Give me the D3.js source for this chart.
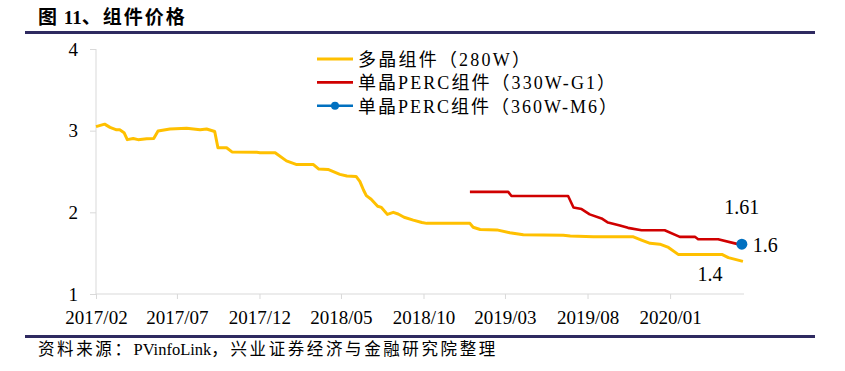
<!DOCTYPE html>
<html><head><meta charset="utf-8">
<script src="https://cdn.jsdelivr.net/npm/d3@7"></script>
<style>body{margin:0;background:#fff}svg{display:block}</style>
</head><body><svg id="c" width="845" height="371"></svg>
<script>
const titleText = "图 11、组件价格";
const sourceText = "资料来源：PVinfoLink，兴业证券经济与金融研究院整理";
const seriesNames = ["多晶组件（280W）", "单晶PERC组件（330W-G1）", "单晶PERC组件（360W-M6）"];
const seriesColors = ["#FFC000", "#D00000", "#0070C0"];
const yTicks = [1, 2, 3, 4];
const xTickLabels = ["2017/02", "2017/07", "2017/12", "2018/05", "2018/10", "2019/03", "2019/08", "2020/01"];
const xDomain = ["2017-02-01", "2020-05-17"];

const polyDates = ["2017-02-01","2017-02-17","2017-02-27","2017-03-11","2017-03-17","2017-03-25","2017-03-31","2017-04-11","2017-04-20","2017-05-06","2017-05-19","2017-05-27","2017-06-18","2017-07-19","2017-08-13","2017-08-25","2017-09-09","2017-09-15","2017-10-01","2017-10-11","2017-11-26","2017-12-02","2017-12-30","2018-01-20","2018-02-08","2018-03-11","2018-03-21","2018-04-07","2018-04-29","2018-05-12","2018-05-29","2018-06-05","2018-06-12","2018-06-17","2018-06-26","2018-07-08","2018-07-15","2018-07-26","2018-08-06","2018-08-15","2018-08-26","2018-09-12","2018-09-28","2018-10-07","2018-12-26","2019-01-01","2019-01-14","2019-02-14","2019-03-10","2019-04-04","2019-06-17","2019-06-30","2019-08-12","2019-10-25","2019-11-09","2019-11-25","2019-12-13","2019-12-29","2020-01-16","2020-04-06","2020-04-18","2020-05-15"];
const polyValues = [3.05,3.08,3.04,3.01,3.01,2.975,2.89,2.905,2.89,2.90,2.905,2.995,3.02,3.03,3.01,3.02,2.99,2.79,2.79,2.74,2.735,2.73,2.73,2.63,2.585,2.585,2.53,2.525,2.465,2.445,2.44,2.38,2.27,2.205,2.16,2.075,2.06,1.975,2.00,1.98,1.94,1.905,1.875,1.865,1.865,1.817,1.79,1.785,1.75,1.725,1.72,1.71,1.70,1.70,1.66,1.62,1.61,1.57,1.485,1.485,1.445,1.40];

const g1Dates = ["2018-12-26","2019-03-07","2019-03-13","2019-06-26","2019-07-06","2019-07-21","2019-08-05","2019-08-27","2019-09-08","2019-09-30","2019-10-15","2019-11-09","2019-12-22","2020-01-19","2020-02-16","2020-02-22","2020-03-30","2020-04-30","2020-05-13"];
const g1Values = [2.25,2.25,2.20,2.20,2.06,2.04,1.975,1.925,1.875,1.84,1.81,1.78,1.78,1.70,1.70,1.67,1.67,1.62,1.60];

const m6Dates = ["2020-05-13"];
const m6Values = [1.61];

const parse = d3.timeParse("%Y-%m-%d");
const tickParse = d3.timeParse("%Y/%m");
const svg = d3.select("#c");
const serif = "'Liberation Serif','Times New Roman','Noto Sans CJK SC',serif";

function mixedText(sel, str, cjkSpacing) {
  const runs = str.match(/[\u3000-\u9fff\uff00-\uffef]+|[^\u3000-\u9fff\uff00-\uffef]+/g);
  runs.forEach(r => {
    const cjk = /[\u3000-\u9fff\uff00-\uffef]/.test(r);
    sel.append("tspan").attr("letter-spacing", cjk ? cjkSpacing : 0).text(r);
  });
  return sel;
}

const x = d3.scaleTime().domain(xDomain.map(parse)).range([96, 744]);
const y = d3.scaleLinear().domain([1, 4]).range([294, 49]);

// title + rules
mixedText(svg.append("text").attr("x", 38).attr("y", 24).attr("font-family", serif)
  .attr("font-size", 19).attr("font-weight", "bold").attr("fill", "#000")
  .style("white-space", "pre"), titleText, 2);
svg.append("rect").attr("x", 25).attr("y", 31).attr("width", 790).attr("height", 3).attr("fill", "#2F2A60");
svg.append("rect").attr("x", 25).attr("y", 335).attr("width", 790).attr("height", 3).attr("fill", "#2F2A60");
mixedText(svg.append("text").attr("x", 38).attr("y", 355).attr("font-family", serif)
  .attr("font-size", 16.5).attr("fill", "#000"), sourceText, 2.6);

// axes
const yAxis = d3.axisLeft(y).tickValues(yTicks).tickSize(6).tickPadding(12).tickFormat(d3.format("d"));
const gy = svg.append("g").attr("transform", "translate(96,0)").call(yAxis);
const xAxis = d3.axisBottom(x).tickValues(xTickLabels.map(tickParse)).tickSize(5).tickPadding(12)
  .tickFormat(d3.timeFormat("%Y/%m"));
const gx = svg.append("g").attr("transform", "translate(0,294)").call(xAxis);
[gx, gy].forEach(g => {
  g.select(".domain").attr("stroke", "#D9D9D9");
  g.selectAll(".tick line").attr("stroke", "#D9D9D9");
  g.selectAll(".tick text").attr("font-family", serif).attr("font-size", 19).attr("fill", "#000");
});
gx.select(".domain").attr("d", `M96,0H744`);
gy.select(".domain").attr("d", `M0,${y(4)}V${y(1)}`);

// lines
const line = d3.line().x(d => x(d[0])).y(d => y(d[1])).curve(d3.curveLinear);
const mk = (ds, vs) => ds.map((d, i) => [parse(d), vs[i]]);
const polyData = mk(polyDates, polyValues);
const g1Data = mk(g1Dates, g1Values);
const m6Data = mk(m6Dates, m6Values);

svg.append("path").datum(polyData).attr("d", line).attr("fill", "none")
  .attr("stroke", seriesColors[0]).attr("stroke-width", 3).attr("stroke-linejoin", "round");
svg.append("path").datum(g1Data).attr("d", line).attr("fill", "none")
  .attr("stroke", seriesColors[1]).attr("stroke-width", 2.6).attr("stroke-linejoin", "round");
svg.append("path").datum(m6Data).attr("d", line).attr("fill", "none")
  .attr("stroke", seriesColors[2]).attr("stroke-width", 2.6);
svg.selectAll(".m6").data(m6Data).enter().append("circle")
  .attr("cx", d => x(d[0])).attr("cy", d => y(d[1])).attr("r", 5.5).attr("fill", seriesColors[2]);

// value labels
const lastP = polyData[polyData.length - 1];
const lastG = g1Data[g1Data.length - 1];
const lastM = m6Data[m6Data.length - 1];
const lab = (txt, xx, yy, anchor) => svg.append("text").attr("x", xx).attr("y", yy)
  .attr("text-anchor", anchor).attr("font-family", serif).attr("font-size", 20).attr("fill", "#000").text(txt);
lab(String(lastM[1]), x(lastM[0]), y(lastM[1]) - 30, "middle");
lab(String(lastG[1]), x(lastG[0]) + 11, y(lastG[1]) + 7, "start");
lab(String(lastP[1]), x(lastP[0]) - 33, y(lastP[1]) + 20, "middle");

// legend
const legW = [172, 257, 259];
const leg = svg.append("g");
seriesNames.forEach((n, i) => {
  const cy = 59 + i * 23.4;
  leg.append("line").attr("x1", 317).attr("x2", 353).attr("y1", cy).attr("y2", cy)
    .attr("stroke", seriesColors[i]).attr("stroke-width", i === 0 ? 3 : 2.6);
  if (i === 2) leg.append("circle").attr("cx", 335).attr("cy", cy).attr("r", 4).attr("fill", seriesColors[i]);
  leg.append("text").attr("x", 358).attr("y", cy + 7).attr("font-family", serif)
    .attr("font-size", 18).attr("textLength", legW[i]).attr("lengthAdjust", "spacing")
    .attr("fill", "#000").text(n);
});
</script></body></html>
